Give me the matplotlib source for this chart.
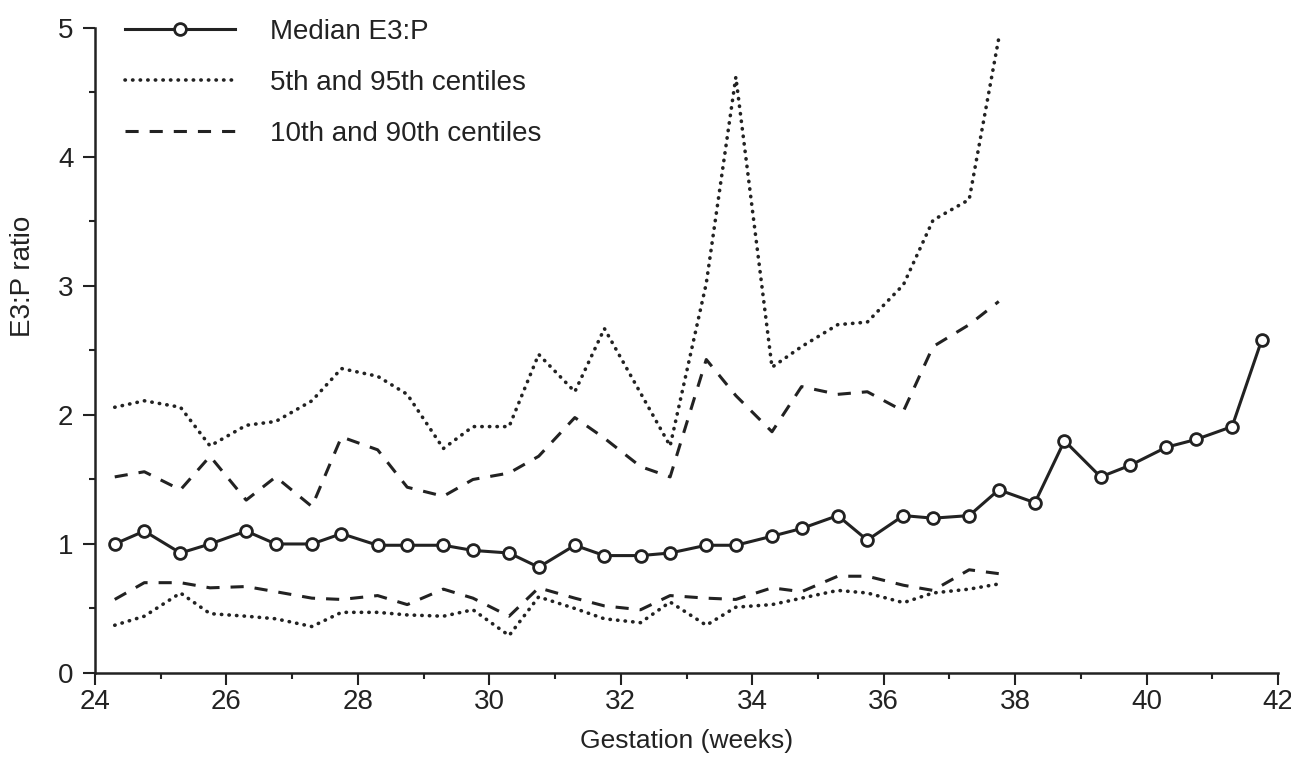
import numpy as np
import matplotlib
matplotlib.use("Agg")
import matplotlib.pyplot as plt
from matplotlib.ticker import MultipleLocator

plt.rcParams['font.family'] = ['Liberation Sans', 'DejaVu Sans']

INK = "#222222"

# gestation (weeks) for each sample point
weeks = [24.3, 24.75, 25.3, 25.75, 26.3, 26.75, 27.3, 27.75, 28.3, 28.75,
         29.3, 29.75, 30.3, 30.75, 31.3, 31.75, 32.3, 32.75, 33.3, 33.75,
         34.3, 34.75, 35.3, 35.75, 36.3, 36.75, 37.3, 37.75, 38.3, 38.75,
         39.3, 39.75, 40.3, 40.75, 41.3, 41.75]

median = [1.00, 1.10, 0.93, 1.00, 1.10, 1.00, 1.00, 1.08, 0.99, 0.99,
          0.99, 0.95, 0.93, 0.82, 0.99, 0.91, 0.91, 0.93, 0.99, 0.99,
          1.06, 1.12, 1.22, 1.03, 1.22, 1.20, 1.22, 1.42, 1.32, 1.80,
          1.52, 1.61, 1.75, 1.81, 1.91, 2.58]

# centiles only go up to 37.75 weeks
p95 = [2.06, 2.11, 2.06, 1.76, 1.92, 1.95, 2.11, 2.36, 2.30, 2.16,
       1.74, 1.91, 1.91, 2.47, 2.18, 2.67, 2.17, 1.76, 3.02, 4.62,
       2.37, 2.53, 2.70, 2.72, 3.01, 3.51, 3.67, 4.92]
p90 = [1.52, 1.56, 1.42, 1.68, 1.34, 1.52, 1.29, 1.83, 1.73, 1.44,
       1.37, 1.50, 1.55, 1.68, 1.98, 1.82, 1.60, 1.52, 2.43, 2.15,
       1.87, 2.22, 2.16, 2.18, 2.03, 2.53, 2.70, 2.88]
p10 = [0.57, 0.70, 0.70, 0.66, 0.67, 0.63, 0.58, 0.57, 0.60, 0.53,
       0.65, 0.58, 0.44, 0.66, 0.58, 0.52, 0.49, 0.60, 0.58, 0.57,
       0.66, 0.63, 0.75, 0.75, 0.68, 0.64, 0.80, 0.77]
p5 = [0.37, 0.44, 0.62, 0.46, 0.44, 0.42, 0.36, 0.47, 0.47, 0.45,
      0.44, 0.49, 0.29, 0.59, 0.50, 0.42, 0.39, 0.55, 0.37, 0.51,
      0.53, 0.58, 0.64, 0.62, 0.545, 0.62, 0.65, 0.69]

n_c = len(p95)
dotted = dict(ls=(0, (0.1, 2.0)), lw=2.6, dash_capstyle='round')
dashed = dict(ls=(0, (4.3, 3.6)), lw=2.2)

fig = plt.figure(figsize=(12.91, 7.65), dpi=100)
ax = fig.add_axes([0.0736, 0.1203, 0.9164, 0.8431])

ax.plot(weeks, median, color=INK, lw=2.2, marker='o', ms=8.5,
        mfc='white', mec=INK, mew=2, label='Median E3:P', zorder=3)
ax.plot(weeks[:n_c], p95, color=INK, label='5th and 95th centiles', **dotted)
ax.plot(weeks[:n_c], p5, color=INK, **dotted)
ax.plot(weeks[:n_c], p90, color=INK, label='10th and 90th centiles', **dashed)
ax.plot(weeks[:n_c], p10, color=INK, **dashed)

ax.set_xlim(24, 42)
ax.set_ylim(0, 5)
ax.xaxis.set_major_locator(MultipleLocator(2))
ax.xaxis.set_minor_locator(MultipleLocator(1))
ax.yaxis.set_major_locator(MultipleLocator(1))
ax.yaxis.set_minor_locator(MultipleLocator(0.5))

for side in ('top', 'right'):
    ax.spines[side].set_visible(False)
for side in ('left', 'bottom'):
    ax.spines[side].set_linewidth(1.8)
    ax.spines[side].set_color(INK)

ax.tick_params(which='major', length=8.5, width=1.5, color=INK,
               labelsize=20, labelcolor=INK)
ax.tick_params(axis='x', which='major', pad=3)
ax.tick_params(axis='y', which='major', pad=7)
ax.tick_params(which='minor', length=4, width=1.5, color=INK)

ax.set_xlabel('Gestation (weeks)', fontsize=19, color=INK, labelpad=10)
ax.set_ylabel('E3:P ratio', fontsize=20, color=INK)
ax.yaxis.set_label_coords(-0.050, 0.615)

leg = ax.legend(loc='upper left', bbox_to_anchor=(0.025, 1.014),
                frameon=False, fontsize=20, handlelength=3.96,
                handletextpad=1.26, labelspacing=0.9, borderpad=0,
                numpoints=1, borderaxespad=0)
for t in leg.get_texts():
    t.set_color(INK)

fig.savefig('out.png', dpi=100, facecolor='white')
